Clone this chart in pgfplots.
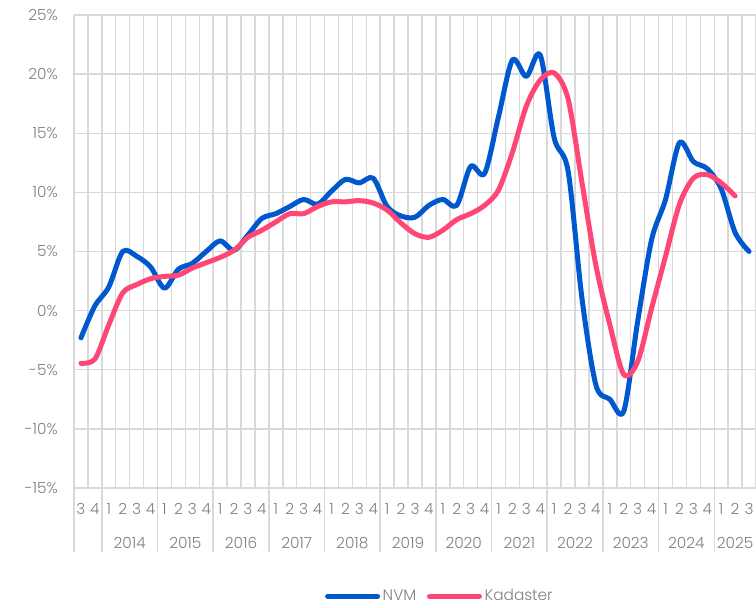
\documentclass[border=0pt]{standalone}
\usepackage{fontspec}
\setmainfont{Poppins}[UprightFont=* Light]
\usepackage{pgfplots}
\pgfplotsset{compat=1.18}
\definecolor{nvm}{RGB}{0,88,206}
\definecolor{kad}{RGB}{255,71,117}
\definecolor{gridc}{RGB}{217,217,217}
\definecolor{txt}{RGB}{128,128,128}

\begin{document}
\begin{tikzpicture}[font=\fontsize{11.5}{13}\selectfont]
\begin{axis}[
  scale only axis,
  width=511.5pt, height=354.75pt,
  xmin=-0.5, xmax=48.5, ymin=-15, ymax=25,
  ytick={-15,-10,...,25},
  yticklabel={\pgfmathprintnumber{\tick}\%},
  /pgf/number format/assume math mode=true,
  xtick={0,...,48},
  xticklabels={3,4,1,2,3,4,1,2,3,4,1,2,3,4,1,2,3,4,1,2,3,4,1,2,3,4,1,2,3,4,1,2,3,4,1,2,3,4,1,2,3,4,1,2,3,4,1,2,3},
  minor xtick={-0.5,0.5,...,48.5},
  xmajorgrids=false, xminorgrids=true, ymajorgrids=true,
  grid style={gridc, line width=1.1pt},
  minor grid style={gridc, line width=1.1pt},
  major grid style={gridc, line width=1.1pt},
  major tick length=0pt, minor tick length=0pt,
  axis line style={draw=none},
  tick label style={text=txt},
  yticklabel style={inner sep=0pt, xshift=-12pt},
  xticklabel style={anchor=center, inner sep=0pt, yshift=-15.75pt},
  extra x ticks={3.5,7.5,11.5,15.5,19.5,23.5,27.5,31.5,35.5,39.5,43.5,47},
  extra x tick labels={2014,2015,2016,2017,2018,2019,2020,2021,2022,2023,2024,2025},
  extra x tick style={grid=none, xticklabel style={yshift=-25.5pt}},
  legend style={at={(0.537,-0.229)}, anchor=center, draw=none, fill=none,
    legend columns=2, text=txt, font=\fontsize{11.5}{13}\selectfont,
    /tikz/every even column/.append style={column sep=6pt},
    nodes={inner sep=2pt}},
  legend image code/.code={\draw[#1, line width=3.75pt, line cap=round] (0pt,0pt) -- (37.5pt,0pt);},
  clip=false,
]
\pgfplotsinvokeforeach{-0.5,1.5,5.5,9.5,13.5,17.5,21.5,25.5,29.5,33.5,37.5,41.5,45.5}{
  \draw[gridc, line width=1.1pt] (axis cs:#1,-15) -- ([yshift=-48pt]axis cs:#1,-15);
}
\addplot[nvm, line width=3.75pt, smooth, line join=round, line cap=round] coordinates {
(0,-2.3) (1,0.4) (2,2.0) (3,5.0) (4,4.6) (5,3.7) (6,1.9) (7,3.5) (8,4.0) (9,5.0)
(10,5.9) (11,5.1) (12,6.4) (13,7.8) (14,8.2) (15,8.8) (16,9.4) (17,9.0) (18,10.1) (19,11.1)
(20,10.8) (21,11.2) (22,8.8) (23,8.0) (24,7.9) (25,8.9) (26,9.4) (27,8.9) (28,12.2) (29,11.6)
(30,16.4) (31,21.2) (32,19.8) (33,21.6) (34,14.6) (35,11.8) (36,1.0) (37,-6.3) (38,-7.5) (39,-8.5)
(40,-0.9) (41,6.0) (42,9.4) (43,14.2) (44,12.6) (45,12.0) (46,10.3) (47,6.6) (48,5.0)
};
\addlegendentry{NVM}
\addplot[kad, line width=3.75pt, smooth, line join=round, line cap=round] coordinates {
(0,-4.45) (1,-4.1) (2,-1.2) (3,1.5) (4,2.2) (5,2.7) (6,2.9) (7,3.0) (8,3.6) (9,4.05)
(10,4.5) (11,5.1) (12,6.2) (13,6.8) (14,7.5) (15,8.2) (16,8.2) (17,8.8) (18,9.2) (19,9.2)
(20,9.3) (21,9.1) (22,8.5) (23,7.4) (24,6.5) (25,6.2) (26,6.8) (27,7.7) (28,8.2) (29,8.9)
(30,10.2) (31,13.4) (32,17.3) (33,19.5) (34,20.1) (35,17.9) (36,10.8) (37,3.8) (38,-1.2) (39,-5.4)
(40,-4.3) (41,0.2) (42,4.6) (43,9.0) (44,11.2) (45,11.5) (46,10.8) (47,9.7)
};
\addlegendentry{Kadaster}
\end{axis}
\pgfresetboundingbox
\path ([xshift=-55.5pt,yshift=-89.25pt]current axis.south west) rectangle ([yshift=11.25pt]current axis.north east);
\end{tikzpicture}
\end{document}
